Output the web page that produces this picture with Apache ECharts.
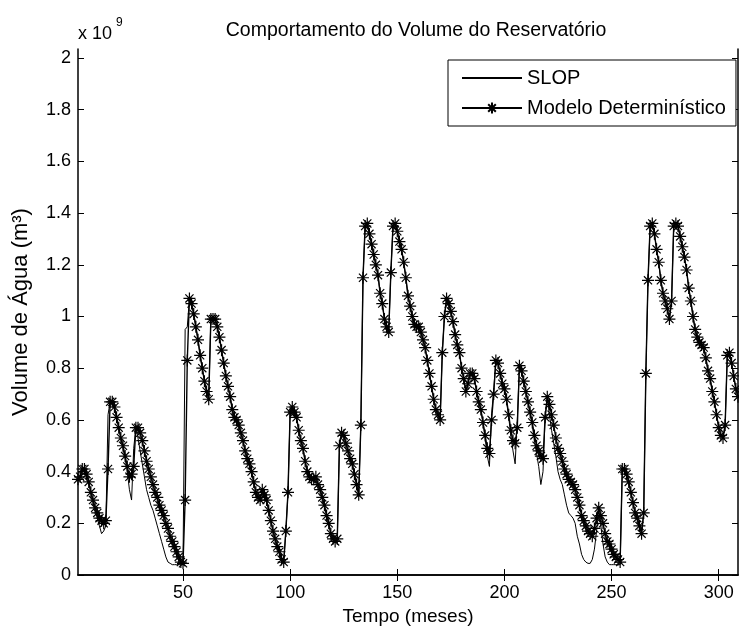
<!DOCTYPE html>
<html>
<head>
<meta charset="utf-8">
<script src="https://cdn.jsdelivr.net/npm/echarts@6/dist/echarts.min.js"></script>
<style>
  html, body { margin: 0; padding: 0; background: #fff; }
  #main { width: 739px; height: 630px; }
</style>
</head>
<body>
<div id="main"></div>
<script>
// volume do reservatório, em 10^9 m³, um valor por mês (t = 1..309)
const slop = [
  0.37, 0.38, 0.41, 0.41, 0.39, 0.36, 0.32, 0.28, 0.25, 0.22,
  0.19, 0.16, 0.17, 0.19, 0.62, 0.67, 0.67, 0.65, 0.61, 0.57,
  0.53, 0.49, 0.45, 0.40, 0.33, 0.29, 0.49, 0.57, 0.53, 0.48,
  0.43, 0.38, 0.33, 0.30, 0.27, 0.25, 0.22, 0.19, 0.16, 0.13,
  0.10, 0.07, 0.05, 0.045, 0.04, 0.04, 0.04, 0.04, 0.04, 0.04,
  0.95, 0.96, 1.07, 1.05, 1.01, 0.96, 0.91, 0.85, 0.80, 0.75,
  0.71, 0.68, 0.99, 0.99, 0.99, 0.96, 0.92, 0.87, 0.82, 0.77,
  0.73, 0.69, 0.64, 0.61, 0.60, 0.58, 0.55, 0.52, 0.48, 0.45,
  0.43, 0.40, 0.36, 0.32, 0.30, 0.29, 0.33, 0.31, 0.29, 0.25,
  0.21, 0.17, 0.14, 0.11, 0.09, 0.06, 0.05, 0.17, 0.32, 0.63,
  0.65, 0.63, 0.61, 0.56, 0.52, 0.49, 0.44, 0.40, 0.38, 0.37,
  0.37, 0.38, 0.35, 0.33, 0.30, 0.27, 0.23, 0.20, 0.16, 0.14,
  0.13, 0.14, 0.50, 0.55, 0.54, 0.51, 0.48, 0.45, 0.43, 0.39,
  0.35, 0.31, 0.58, 1.15, 1.35, 1.36, 1.32, 1.28, 1.24, 1.20,
  1.16, 1.09, 1.05, 0.99, 0.96, 0.94, 1.17, 1.35, 1.36, 1.33,
  1.29, 1.26, 1.21, 1.15, 1.08, 1.04, 1.00, 0.97, 0.96, 0.96,
  0.94, 0.91, 0.88, 0.83, 0.78, 0.73, 0.68, 0.64, 0.62, 0.60,
  0.86, 1.00, 1.07, 1.05, 1.02, 0.98, 0.93, 0.89, 0.86, 0.80,
  0.76, 0.71, 0.74, 0.78, 0.78, 0.76, 0.71, 0.67, 0.64, 0.59,
  0.53, 0.46, 0.42, 0.62, 0.72, 0.83, 0.82, 0.78, 0.74, 0.72,
  0.67, 0.61, 0.54, 0.48, 0.43, 0.60, 0.81, 0.79, 0.75, 0.71,
  0.67, 0.62, 0.58, 0.52, 0.47, 0.42, 0.35, 0.40, 0.61, 0.69,
  0.62, 0.56, 0.51, 0.46, 0.40, 0.37, 0.35, 0.31, 0.27, 0.24,
  0.23, 0.22, 0.20, 0.15, 0.12, 0.08, 0.06, 0.05, 0.045, 0.045,
  0.06, 0.10, 0.17, 0.25, 0.19, 0.12, 0.07, 0.05, 0.04, 0.04,
  0.04, 0.04, 0.04, 0.04, 0.41, 0.41, 0.39, 0.36, 0.32, 0.28,
  0.24, 0.22, 0.19, 0.16, 0.24, 0.78, 1.14, 1.35, 1.36, 1.32,
  1.26, 1.21, 1.14, 1.09, 1.06, 1.03, 0.99, 1.06, 1.35, 1.36,
  1.35, 1.31, 1.27, 1.23, 1.18, 1.11, 1.06, 1.00, 0.95, 0.92,
  0.90, 0.89, 0.88, 0.84, 0.79, 0.76, 0.71, 0.67, 0.62, 0.57,
  0.54, 0.53, 0.58, 0.85, 0.86, 0.82, 0.77, 0.72, 0.69
];

const modelo = [
  0.37, 0.38, 0.41, 0.41, 0.39, 0.36, 0.32, 0.29, 0.26, 0.24,
  0.22, 0.21, 0.20, 0.21, 0.41, 0.67, 0.67, 0.65, 0.61, 0.57,
  0.53, 0.50, 0.46, 0.42, 0.38, 0.39, 0.42, 0.57, 0.57, 0.55,
  0.52, 0.48, 0.44, 0.41, 0.38, 0.35, 0.32, 0.30, 0.27, 0.25,
  0.23, 0.20, 0.18, 0.15, 0.13, 0.11, 0.09, 0.07, 0.05, 0.045,
  0.29, 0.83, 1.07, 1.05, 1.01, 0.96, 0.91, 0.85, 0.80, 0.75,
  0.71, 0.68, 0.99, 0.99, 0.99, 0.96, 0.92, 0.87, 0.82, 0.77,
  0.73, 0.69, 0.64, 0.61, 0.60, 0.58, 0.55, 0.52, 0.48, 0.45,
  0.43, 0.40, 0.36, 0.32, 0.30, 0.29, 0.33, 0.31, 0.29, 0.25,
  0.21, 0.17, 0.14, 0.11, 0.09, 0.06, 0.05, 0.17, 0.32, 0.63,
  0.65, 0.63, 0.61, 0.56, 0.52, 0.49, 0.44, 0.40, 0.38, 0.37,
  0.37, 0.38, 0.35, 0.33, 0.30, 0.27, 0.23, 0.20, 0.16, 0.14,
  0.13, 0.14, 0.50, 0.55, 0.54, 0.51, 0.48, 0.45, 0.43, 0.39,
  0.35, 0.31, 0.58, 1.15, 1.35, 1.36, 1.32, 1.28, 1.24, 1.20,
  1.16, 1.09, 1.05, 0.99, 0.96, 0.94, 1.17, 1.35, 1.36, 1.33,
  1.29, 1.26, 1.21, 1.15, 1.08, 1.04, 1.00, 0.97, 0.96, 0.96,
  0.94, 0.91, 0.88, 0.83, 0.78, 0.73, 0.68, 0.64, 0.62, 0.60,
  0.86, 1.00, 1.07, 1.05, 1.02, 0.98, 0.93, 0.89, 0.86, 0.80,
  0.76, 0.71, 0.74, 0.78, 0.78, 0.76, 0.71, 0.67, 0.64, 0.59,
  0.54, 0.49, 0.47, 0.60, 0.70, 0.83, 0.82, 0.78, 0.74, 0.72,
  0.68, 0.62, 0.56, 0.52, 0.51, 0.57, 0.81, 0.79, 0.75, 0.71,
  0.67, 0.63, 0.59, 0.54, 0.50, 0.48, 0.46, 0.45, 0.61, 0.69,
  0.66, 0.62, 0.58, 0.53, 0.49, 0.47, 0.44, 0.41, 0.39, 0.37,
  0.36, 0.35, 0.33, 0.30, 0.27, 0.23, 0.21, 0.19, 0.17, 0.16,
  0.15, 0.18, 0.22, 0.26, 0.23, 0.20, 0.16, 0.13, 0.12, 0.10,
  0.08, 0.07, 0.06, 0.05, 0.41, 0.41, 0.39, 0.36, 0.32, 0.28,
  0.24, 0.22, 0.19, 0.16, 0.24, 0.78, 1.14, 1.35, 1.36, 1.32,
  1.26, 1.21, 1.14, 1.09, 1.06, 1.03, 0.99, 1.06, 1.35, 1.36,
  1.35, 1.31, 1.27, 1.23, 1.18, 1.11, 1.06, 1.00, 0.95, 0.92,
  0.90, 0.89, 0.88, 0.84, 0.79, 0.76, 0.71, 0.67, 0.62, 0.57,
  0.54, 0.53, 0.58, 0.85, 0.86, 0.82, 0.77, 0.72, 0.69
];

const xTicks = [50, 100, 150, 200, 250, 300];
const yTicks = [0, 0.2, 0.4, 0.6, 0.8, 1, 1.2, 1.4, 1.6, 1.8, 2];

const FONT = '"Liberation Sans", Arial, sans-serif';
// asterisco estilo MATLAB ('+' sobreposto a 'x')
const STAR = 'path://M5 0L5 10M0 5L10 5M1.6 1.6L8.4 8.4M8.4 1.6L1.6 8.4';

const toPoints = arr => arr.map((v, i) => [i + 1, v]);

const axisLine = { show: true, lineStyle: { color: '#000', width: 1.5 } };
const tickStyle = { color: '#000', width: 1 };

const chart = echarts.init(document.getElementById('main'));
chart.setOption({
  animation: false,
  backgroundColor: '#fff',
  title: {
    text: 'Comportamento do Volume do Reservatório',
    left: 411,
    top: 16,
    textAlign: 'center',
    textStyle: { fontFamily: FONT, fontSize: 19.5, fontWeight: 'normal', color: '#000' }
  },
  legend: {
    orient: 'vertical',
    left: 448,
    top: 60,
    padding: [8, 10, 8, 13],
    itemWidth: 60,
    itemHeight: 14,
    itemGap: 10,
    borderColor: '#000',
    borderWidth: 1,
    backgroundColor: '#fff',
    textStyle: { fontFamily: FONT, fontSize: 20, color: '#000' },
    data: [
      { name: 'SLOP', itemStyle: { opacity: 0 } },
      'Modelo Determinístico'
    ]
  },
  grid: { left: 78, right: 1, top: 49, bottom: 55, containLabel: false, outerBoundsMode: 'none' },
  xAxis: [
    {
      type: 'value', min: 1, max: 309, position: 'bottom',
      axisLine,
      axisTick: { inside: true, length: 6, customValues: xTicks, lineStyle: tickStyle },
      axisLabel: { customValues: xTicks, color: '#000', fontSize: 18, fontFamily: FONT, margin: 9 },
      splitLine: { show: false },
      name: 'Tempo (meses)', nameLocation: 'middle', nameGap: 28,
      nameTextStyle: { fontFamily: FONT, fontSize: 19, color: '#000' }
    },
    {
      type: 'value', min: 1, max: 309, position: 'top',
      axisLine,
      axisTick: { inside: true, length: 6, customValues: xTicks, lineStyle: tickStyle },
      axisLabel: { show: false, customValues: xTicks },
      splitLine: { show: false }
    }
  ],
  yAxis: [
    {
      type: 'value', min: 0, max: 2.035, position: 'left',
      axisLine,
      axisTick: { inside: true, length: 6, customValues: yTicks, lineStyle: tickStyle },
      axisLabel: {
        customValues: yTicks, color: '#000', fontSize: 18, fontFamily: FONT, margin: 7,
        formatter: v => String(Math.round(v * 10) / 10)
      },
      splitLine: { show: false },
      name: 'Volume de Água (m³)', nameLocation: 'middle', nameRotate: 90, nameGap: 46,
      nameTextStyle: { fontFamily: FONT, fontSize: 22, color: '#000' }
    },
    {
      type: 'value', min: 0, max: 2.035, position: 'right',
      axisLine,
      axisTick: { inside: true, length: 6, customValues: yTicks, lineStyle: tickStyle },
      axisLabel: { show: false, customValues: yTicks },
      splitLine: { show: false }
    }
  ],
  graphic: [
    { type: 'text', left: 78, top: 25, style: { text: 'x 10', font: '18px ' + FONT, fill: '#000' } },
    { type: 'text', left: 116, top: 17, style: { text: '9', font: '12px ' + FONT, fill: '#000' } }
  ],
  series: [
    {
      name: 'SLOP',
      type: 'line',
      data: toPoints(slop),
      symbol: 'none',
      lineStyle: { color: '#000', width: 1 },
      itemStyle: { color: '#000' },
      z: 2
    },
    {
      name: 'Modelo Determinístico',
      type: 'line',
      data: toPoints(modelo),
      symbol: STAR,
      symbolSize: 12,
      lineStyle: { color: '#000', width: 1.4 },
      itemStyle: { color: '#000', borderColor: '#000', borderWidth: 1.2 },
      z: 3
    }
  ]
});
</script>
</body>
</html>
